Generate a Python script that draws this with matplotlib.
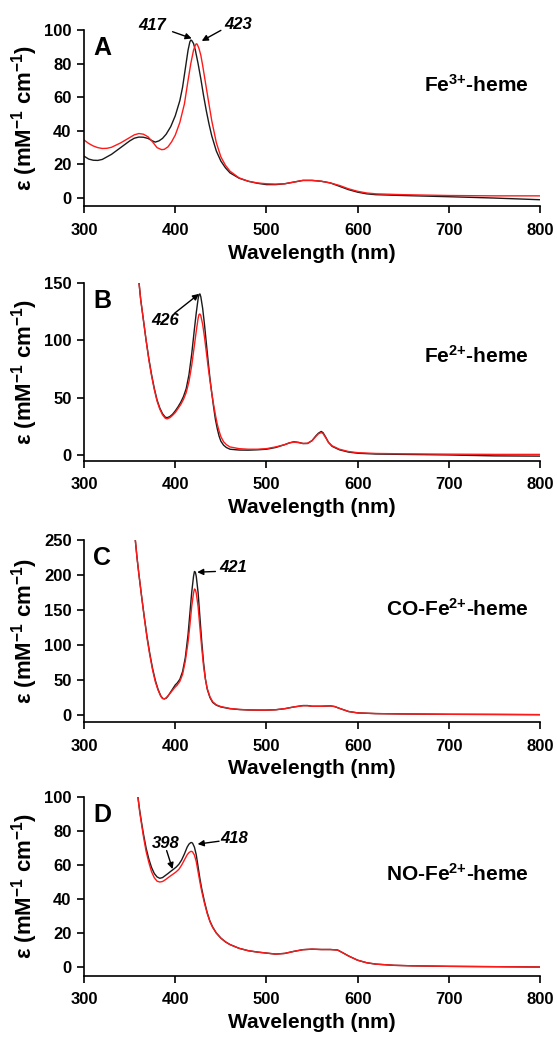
import matplotlib
matplotlib.use("Agg")
import matplotlib.pyplot as plt

plt.rcParams['font.family'] = ['Liberation Sans', 'DejaVu Sans']
plt.rcParams['font.weight'] = 'bold'
plt.rcParams['mathtext.fontset'] = 'custom'
plt.rcParams['mathtext.rm'] = 'Liberation Sans:bold'
plt.rcParams['mathtext.bf'] = 'Liberation Sans:bold'
plt.rcParams['mathtext.default'] = 'bf'

# ---- panel A: Fe3+-heme ----
wl_a_k = [300, 305, 310, 315, 320, 330, 340, 350, 355, 360, 365, 370, 375, 378, 382, 386, 390, 395, 400, 405,
          408, 411, 414, 416, 417, 418, 420, 422, 425, 428, 431, 434, 437, 440, 445, 450, 455, 460, 470, 480,
          490, 500, 510, 520, 530, 540, 550, 560, 570, 580, 590, 600, 610, 620, 650, 700, 750, 800]
eps_a_k = [24.9, 23.2, 22.5, 22.4, 23, 26, 30, 34, 35.6, 36.3, 36.2, 35.5, 34, 33.3, 34, 35.5, 38, 42.5, 49, 58,
           66, 77, 88, 93, 94, 93.8, 92, 88, 80, 71, 61, 52, 44, 37, 28, 22, 18, 15, 11.8, 10,
           8.8, 8, 8, 8.5, 9.5, 10.5, 10.5, 10, 9, 7, 5, 3.5, 2.5, 2, 1.5, 0.8, 0, -1]
wl_a_r = [300, 305, 310, 315, 320, 325, 330, 340, 350, 355, 360, 365, 370, 375, 380, 385, 388, 392, 396, 400,
          405, 410, 414, 417, 420, 422, 423, 424, 426, 428, 430, 433, 436, 440, 445, 450, 455, 460, 470, 480,
          490, 500, 510, 520, 530, 540, 550, 560, 570, 580, 590, 600, 610, 620, 650, 700, 750, 800]
eps_a_r = [34.5, 32.5, 31, 30, 29.5, 29.6, 30.2, 32.8, 36, 37.6, 38.4, 38, 36.5, 33.5, 30, 28.8, 29, 30.5, 33.5, 37.5,
           45, 56, 70, 80, 88, 91, 91.8, 91.6, 89, 85, 79, 69, 59, 46, 33, 24.5, 19.5, 16, 12, 10,
           9, 8.5, 8.3, 8.5, 9.5, 10.5, 10.5, 10, 9, 7.5, 5.5, 4, 3, 2.5, 2, 1.5, 1.3, 1.3]

# ---- panel B: Fe2+-heme ----
wl_b = [360, 362, 365, 368, 371, 374, 377, 380, 383, 386, 389, 391, 394, 397, 400, 403, 406, 409, 412, 415,
        418, 421, 423, 425, 426, 427, 428, 430, 432, 434, 436, 438, 440, 442, 444, 446, 448, 450, 453, 456,
        460, 470, 480, 490, 500, 510, 520, 525, 530, 535, 540, 545, 550, 554, 557, 560, 562, 565, 568, 572,
        580, 590, 600, 620, 650, 700, 750, 800]
eps_b_k = [152, 136, 118, 100, 84, 70, 58, 48, 41, 36, 33, 32.5, 33.5, 35.5, 38.5, 42, 46, 51, 58, 70,
           88, 110, 124, 136, 140, 140.5, 138, 128, 114, 98, 82, 67, 54, 42, 31, 23, 16.5, 12, 8.5, 6.5,
           5, 4.3, 4.2, 4.5, 5, 6.5, 9, 10.5, 11.5, 11, 10, 10, 12.5, 16.5, 19, 20.5, 19.5, 15.5, 11, 7.5,
           4.5, 2.5, 1.5, 0.8, 0.5, 0, -0.8, -1]
eps_b_r = [152, 136, 118, 100, 83, 69, 57, 47, 40, 35, 32, 31.5, 32.5, 34.5, 37, 40.5, 44, 48.5, 54.5, 64,
           78, 96, 108, 119, 122.5, 123, 121.5, 114, 103, 90, 77, 65, 54, 44, 35, 27, 21, 16, 11.5, 9,
           7, 5.5, 5, 5, 5.5, 7, 9, 10.5, 11.2, 10.8, 10, 10.2, 12.5, 16, 18.5, 19.5, 18.7, 15, 11, 8,
           5, 3, 2, 1.3, 1, 0.7, 0.5, 0.5]

# ---- panel C: CO-Fe2+-heme ----
wl_c = [356, 358, 360, 363, 366, 369, 372, 375, 378, 381, 384, 386, 388, 390, 392, 395, 398, 400, 402, 405,
        408, 411, 414, 416, 418, 420, 421, 422, 423, 425, 427, 429, 431, 433, 435, 438, 441, 445, 450, 460,
        470, 480, 490, 500, 510, 520, 530, 540, 545, 550, 560, 570, 575, 580, 590, 600, 620, 650, 700, 750, 800]
eps_c_k = [252, 225, 202, 170, 140, 112, 88, 67, 50, 37, 27.5, 24, 23, 24, 27, 33, 39, 43, 45.5, 51,
           62, 82, 115, 145, 175, 198, 205, 204, 198, 175, 140, 105, 75, 52, 37, 25, 18, 14, 11.5, 9,
           7.8, 7.2, 7, 7, 7.5, 9, 11.5, 13.5, 13.5, 12.5, 12.5, 13, 12, 9.5, 5, 3, 2, 1.5, 1, 0.8, 0.5]
eps_c_r = [252, 225, 202, 170, 139, 110, 86, 65, 48, 36, 27, 23.5, 23, 24.5, 27.5, 32, 37, 40, 42.5, 48,
           58, 77, 104, 128, 155, 174, 180, 179, 174, 155, 125, 96, 70, 51, 38, 26, 19, 14.5, 12, 9.3,
           8, 7.3, 7, 7, 7.5, 9, 11.5, 13.2, 13.2, 12.5, 12.5, 13, 12, 9.5, 5, 3, 2, 1.5, 1, 0.8, 0.5]

# ---- panel D: NO-Fe2+-heme ----
wl_d = [359, 361, 363, 365, 368, 371, 374, 377, 380, 383, 386, 389, 392, 395, 398, 401, 404, 407, 410, 413,
        415, 417, 418, 419, 421, 423, 425, 427, 429, 432, 435, 438, 441, 445, 450, 455, 460, 470, 480, 490,
        500, 510, 520, 530, 540, 550, 560, 570, 578, 585, 590, 600, 610, 620, 640, 660, 700, 750, 800]
eps_d_k = [100, 92, 85, 78.5, 70, 63.5, 58.5, 55, 53, 52.2, 52.6, 53.8, 55, 56.3, 57.5, 58.8, 60.5, 63, 66.5, 70.5,
           72.3, 73.2, 73.2, 72.8, 70.5, 66, 59, 52, 46, 38.5, 32, 27, 23.5, 20, 17, 14.8, 13.2, 11, 9.6, 8.8,
           8.2, 7.6, 8, 9.2, 10.2, 10.5, 10.3, 10.3, 10, 8, 6.5, 4, 2.5, 1.7, 1, 0.7, 0.4, 0.2, 0]
eps_d_r = [100, 91, 84, 77, 68, 61.5, 56, 52.5, 50.5, 50, 50.3, 51.3, 52.5, 53.7, 54.8, 56, 57.5, 60, 63, 66,
           67.3, 68, 68, 67.7, 65.8, 62, 56, 50, 44.5, 37.5, 31.5, 26.7, 23.3, 20, 17, 14.8, 13.2, 11, 9.6, 8.8,
           8.2, 7.6, 8, 9.2, 10.2, 10.5, 10.3, 10.3, 10, 8, 6.5, 4, 2.5, 1.7, 1, 0.7, 0.4, 0.2, 0]

panels = [
    dict(letter='A', name='Fe$^{3{+}}$-heme', wk=wl_a_k, k=eps_a_k, wr=wl_a_r, r=eps_a_r,
         ylim=(-5, 100), yt=range(0, 101, 20), rect=[0.151, 0.8013, 0.8185, 0.1698], name_y=0.69),
    dict(letter='B', name='Fe$^{2{+}}$-heme', wk=wl_b, k=eps_b_k, wr=wl_b, r=eps_b_r,
         ylim=(-5, 150), yt=range(0, 151, 50), rect=[0.151, 0.5566, 0.8185, 0.1710], name_y=0.59),
    dict(letter='C', name='CO-Fe$^{2{+}}$-heme', wk=wl_c, k=eps_c_k, wr=wl_c, r=eps_c_r,
         ylim=(-10, 250), yt=range(0, 251, 50), rect=[0.151, 0.3051, 0.8185, 0.1752], name_y=0.62),
    dict(letter='D', name='NO-Fe$^{2{+}}$-heme', wk=wl_d, k=eps_d_k, wr=wl_d, r=eps_d_r,
         ylim=(-5, 100), yt=range(0, 101, 20), rect=[0.151, 0.0611, 0.8185, 0.1718], name_y=0.57),
]

# peak labels: (text, text pos, arrow tail, arrow head)
peaks = {
    'A': [('417', (375, 102.5), (397, 99), (418, 95)),
          ('423', (469, 103.5), (450, 99.8), (429, 93.5))],
    'B': [('426', (389, 117), (399, 123.5), (426, 140.5))],
    'C': [('421', (464, 210), (444, 205), (424, 204))],
    'D': [('398', (389, 72.4), (390.5, 68.5), (397, 57.6)),
          ('418', (465, 75.5), (448, 74), (424.5, 72.3))],
}

fig = plt.figure(figsize=(5.57, 10.39), dpi=100)

for p in panels:
    ax = fig.add_axes(p['rect'])
    ax.plot(p['wk'], p['k'], color='#1a1a1a', lw=1.0)
    ax.plot(p['wr'], p['r'], color='#ff1a1a', lw=1.0)
    ax.set_xlim(300, 800)
    ax.set_ylim(*p['ylim'])
    ax.set_xticks(range(300, 801, 100))
    ax.set_yticks(list(p['yt']))
    ax.spines['top'].set_visible(False)
    ax.spines['right'].set_visible(False)
    for s in ('left', 'bottom'):
        ax.spines[s].set_linewidth(1.2)
    ax.tick_params(direction='out', length=5, width=1.2, labelsize=12, pad=4)
    ax.tick_params(axis='x', pad=7)
    for lab in ax.get_xticklabels() + ax.get_yticklabels():
        lab.set_fontweight('bold')
    ax.set_xlabel('Wavelength (nm)', fontsize=15, fontweight='bold', labelpad=4)
    ax.set_ylabel('ε (mM$^{-1}$ cm$^{-1}$)', fontsize=16, fontweight='bold', labelpad=3)
    ax.text(0.02, 0.90, p['letter'], transform=ax.transAxes, fontsize=18, fontweight='bold',
            ha='left', va='center')
    ax.text(0.975, p['name_y'], p['name'], transform=ax.transAxes, fontsize=15, fontweight='bold',
            ha='right', va='center')
    for txt, tpos, tail, head in peaks[p['letter']]:
        ax.text(tpos[0], tpos[1], txt, fontsize=12, fontweight='bold', style='italic',
                ha='center', va='center')
        ax.annotate('', xy=head, xytext=tail,
                    arrowprops=dict(arrowstyle='-|>', color='black', lw=1.0,
                                    mutation_scale=9, shrinkA=0, shrinkB=0))

fig.savefig('out.png', dpi=100)
